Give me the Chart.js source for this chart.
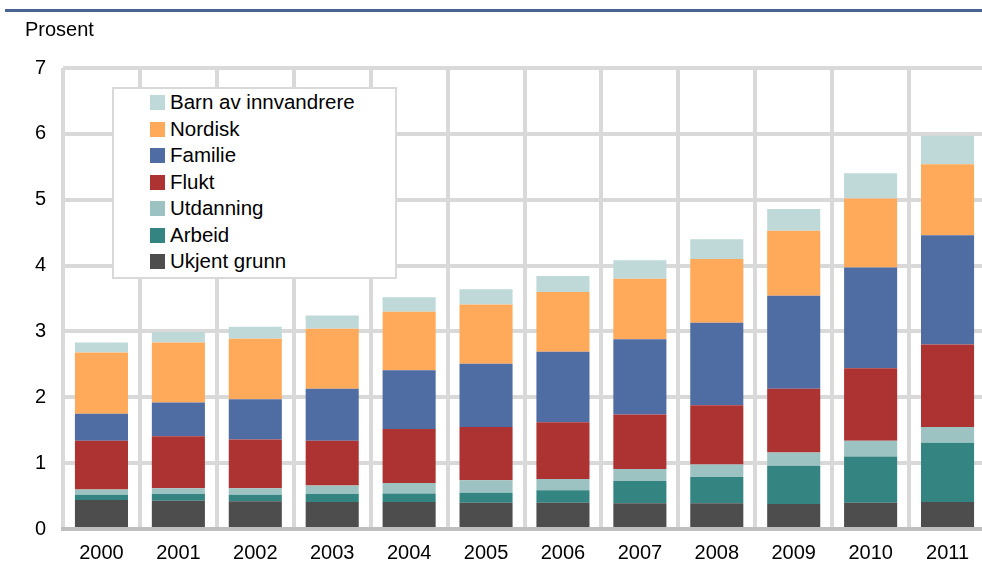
<!DOCTYPE html>
<html>
<head>
<meta charset="utf-8">
<script src="https://cdn.jsdelivr.net/npm/chart.js@4.4.1/dist/chart.umd.min.js"></script>
<style>
  html, body { margin: 0; padding: 0; background: #fff; overflow: hidden; }
  #wrap { position: relative; width: 982px; height: 581px; overflow: hidden; }
  #rule { position: absolute; left: 5px; top: 9px; width: 980px; height: 3px; background: #4a6491; }
  #unit { position: absolute; left: 25px; top: 18px; font: 20px "Liberation Sans", Arial, sans-serif; color: #000; }
  #legend {
    position: absolute; left: 112px; top: 87px; width: 281px; height: 188px;
    border: 2px solid #d9d9d9; background: #fff;
    font: 20.5px "Liberation Sans", Arial, sans-serif; color: #000;
  }
  .row { height: 26.5px; line-height: 26.5px; white-space: nowrap; padding-left: 36px; }
  .sw { display: inline-block; width: 15px; height: 15px; margin-right: 5px; vertical-align: -1px; }
  canvas { position: absolute; left: 0; top: 0; }
</style>
</head>
<body>
<div id="wrap">
  <canvas id="myChart" width="986" height="581"></canvas>
  <div id="rule"></div>
  <div id="unit">Prosent</div>
  <div id="legend"></div>
</div>
<script>
var years = ['2000', '2001', '2002', '2003', '2004', '2005', '2006', '2007', '2008', '2009', '2010', '2011'];

var ukjent    = [0.44, 0.43, 0.42, 0.41, 0.41, 0.40, 0.40, 0.39, 0.39, 0.38, 0.40, 0.41];
var arbeid    = [0.08, 0.10, 0.10, 0.12, 0.13, 0.15, 0.19, 0.34, 0.40, 0.58, 0.70, 0.90];
var utdanning = [0.08, 0.09, 0.10, 0.13, 0.16, 0.19, 0.17, 0.18, 0.19, 0.20, 0.24, 0.24];
var flukt     = [0.74, 0.79, 0.74, 0.68, 0.82, 0.81, 0.86, 0.83, 0.90, 0.97, 1.10, 1.25];
var familie   = [0.41, 0.51, 0.61, 0.79, 0.89, 0.96, 1.07, 1.14, 1.25, 1.41, 1.53, 1.66];
var nordisk   = [0.93, 0.91, 0.92, 0.91, 0.89, 0.90, 0.91, 0.92, 0.97, 0.99, 1.05, 1.08];
var barn      = [0.15, 0.16, 0.18, 0.20, 0.22, 0.23, 0.24, 0.28, 0.30, 0.33, 0.38, 0.43];

var yTicks = [0, 1, 2, 3, 4, 5, 6, 7];

var fontFam = '"Liberation Sans", Arial, sans-serif';

function serie(label, data, color) {
    return {
        label: label,
        data: data,
        backgroundColor: color,
        borderWidth: 0,
        barPercentage: 0.69,
        categoryPercentage: 1.0
    };
}

var data = {
    labels: years,
    datasets: [
        serie('Ukjent grunn', ukjent, '#4d4d4d'),
        serie('Arbeid', arbeid, '#348482'),
        serie('Utdanning', utdanning, '#9cc3c1'),
        serie('Flukt', flukt, '#ad3333'),
        serie('Familie', familie, '#4f6ca3'),
        serie('Nordisk', nordisk, '#ffaa5a'),
        serie('Barn av innvandrere', barn, '#bfd9d8')
    ]
};

var options = {
    responsive: false,
    maintainAspectRatio: false,
    animation: false,
    layout: { padding: { left: 0, top: 68, right: 0, bottom: 0 } },
    plugins: {
        legend: { display: false },
        tooltip: { enabled: false }
    },
    scales: {
        x: {
            stacked: true,
            offset: true,
            afterFit: function (scale) { scale.height = 52; },
            grid: { color: '#d9d9d9', lineWidth: 4, drawTicks: false, offset: true },
            border: { display: true, color: '#bfbfbf', width: 4 },
            ticks: { color: '#000', padding: 12, font: { family: fontFam, size: 20 } }
        },
        y: {
            stacked: true,
            min: 0,
            max: 7,
            afterFit: function (scale) { scale.width = 63; },
            afterBuildTicks: function (scale) {
                scale.ticks = yTicks.map(function (v) { return { value: v }; });
            },
            grid: { color: '#d9d9d9', lineWidth: 4, drawTicks: false },
            border: { display: false },
            ticks: { color: '#000', padding: 17, font: { family: fontFam, size: 20 } }
        }
    }
};

var ctx = document.getElementById('myChart').getContext('2d');
var myBarChart = new Chart(ctx, { type: 'bar', data: data, options: options });

// legend box, top item = top of stack
var legendBox = document.getElementById('legend');
data.datasets.slice().reverse().forEach(function (ds) {
    var row = document.createElement('div');
    row.className = 'row';
    var sw = document.createElement('span');
    sw.className = 'sw';
    sw.style.background = ds.backgroundColor;
    row.appendChild(sw);
    row.appendChild(document.createTextNode(ds.label));
    legendBox.appendChild(row);
});
</script>
</body>
</html>
